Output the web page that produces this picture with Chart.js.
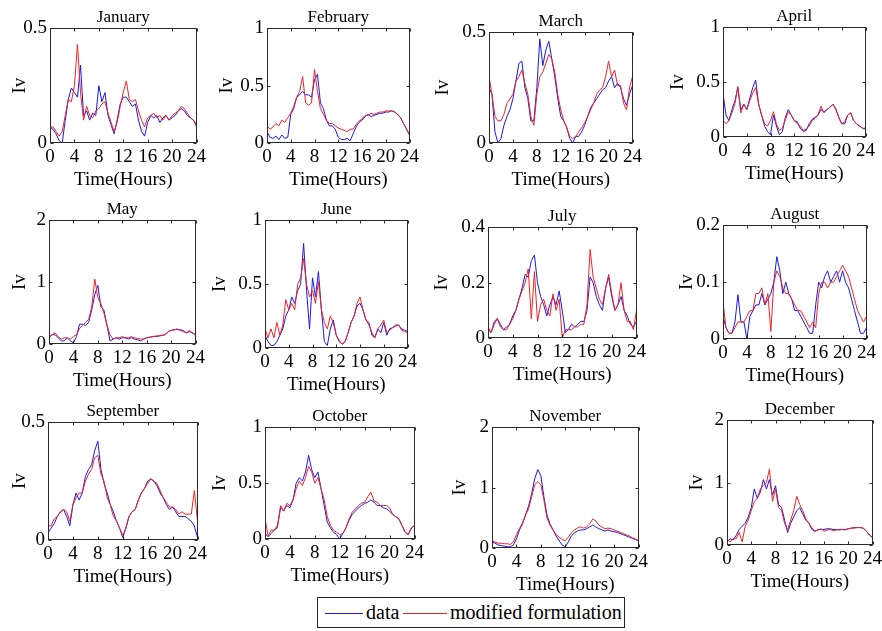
<!DOCTYPE html>
<html>
<head>
<meta charset="utf-8">
<script src="https://cdn.jsdelivr.net/npm/chart.js@4.4.0/dist/chart.umd.min.js"></script>
<style>
  body { margin: 0; background: #fff; width: 882px; height: 631px; position: relative; overflow: hidden;
         font-family: "Liberation Serif", "Times New Roman", serif; color: #000; }
  .panel { position: absolute; }
  #legend { position: absolute; left: 317px; top: 597px; width: 306px; height: 29px; border: 1px solid #222; background: #fff; }
  #legend .ln { position: absolute; top: 15px; height: 0; border-top: 1px solid; }
  #legend .tx { position: absolute; top: 2px; font-size: 20px; line-height: 24px; white-space: nowrap; }
</style>
</head>
<body>
<div id="legend">
  <span class="ln" style="left:7px;width:38px;border-color:rgb(25,25,235)"></span>
  <span class="tx" style="left:48px">data</span>
  <span class="ln" style="left:85px;width:44px;border-color:rgb(240,35,35)"></span>
  <span class="tx" style="left:132px">modified formulation</span>
</div>
<script>
// half-hour sampling over the day
const HOURS = [0,0.5,1,1.5,2,2.5,3,3.5,4,4.5,5,5.5,6,6.5,7,7.5,8,8.5,9,9.5,10,10.5,11,11.5,
  12,12.5,13,13.5,14,14.5,15,15.5,16,16.5,17,17.5,18,18.5,19,19.5,20,20.5,21,21.5,22,22.5,23,23.5,24];
const MONTHS = ['January','February','March','April','May','June','July','August','September','October','November','December'];
const Y_MAX  = [0.5, 1, 0.5, 1, 2, 1, 0.4, 0.2, 0.5, 1, 2, 2];
const Y_STEP = [0.5, 0.5, 0.5, 0.5, 1, 0.5, 0.2, 0.1, 0.5, 0.5, 1, 1];
const X_TICKS = [0, 4, 8, 12, 16, 20, 24];

const janData = [0.07,0.06,0.04,0.01,0.00,0.10,0.19,0.24, 0.22,0.20,0.34,0.12,0.14,0.10,0.13,0.12,
  0.25,0.18,0.22,0.12,0.08,0.04,0.10,0.17, 0.20,0.20,0.18,0.16,0.17,0.10,0.05,0.03,
  0.09,0.12,0.11,0.12,0.09,0.11,0.12,0.10, 0.11,0.12,0.14,0.15,0.14,0.12,0.11,0.10, 0.08];
const janModel = [0.07,0.07,0.05,0.03,0.05,0.12,0.19,0.18, 0.25,0.43,0.22,0.10,0.16,0.12,0.11,0.14,
  0.15,0.17,0.18,0.13,0.09,0.05,0.09,0.16, 0.22,0.27,0.19,0.18,0.19,0.14,0.10,0.07,
  0.11,0.12,0.13,0.11,0.12,0.10,0.12,0.10, 0.12,0.13,0.14,0.16,0.15,0.13,0.11,0.10, 0.07];

const febData = [0.10,0.05,0.04,0.06,0.03,0.07,0.04,0.05, 0.25,0.30,0.40,0.42,0.45,0.42,0.42,0.40,
  0.55,0.60,0.35,0.30,0.20,0.15,0.15,0.12, 0.05,0.03,0.03,0.04,0.02,0.08,0.14,0.18,
  0.20,0.23,0.25,0.23,0.24,0.25,0.26,0.26, 0.27,0.27,0.28,0.27,0.25,0.22,0.17,0.12, 0.07];
const febModel = [0.15,0.12,0.14,0.17,0.15,0.20,0.18,0.22, 0.26,0.32,0.40,0.45,0.58,0.35,0.33,0.35,
  0.64,0.45,0.30,0.25,0.20,0.17,0.17,0.15, 0.13,0.12,0.11,0.10,0.12,0.12,0.16,0.19,
  0.21,0.24,0.24,0.26,0.25,0.26,0.27,0.27, 0.28,0.28,0.28,0.27,0.25,0.22,0.17,0.12, 0.07];

const marData = [0.25,0.22,0.05,0.00,0.02,0.08,0.12,0.15, 0.20,0.28,0.36,0.37,0.25,0.20,0.10,0.10,
  0.25,0.47,0.35,0.42,0.46,0.38,0.30,0.20, 0.12,0.10,0.07,0.02,0.00,0.03,0.03,0.05,
  0.08,0.12,0.16,0.18,0.20,0.22,0.24,0.25, 0.28,0.30,0.25,0.27,0.25,0.20,0.17,0.22, 0.26];
const marModel = [0.30,0.22,0.12,0.10,0.10,0.13,0.18,0.20, 0.22,0.28,0.30,0.33,0.27,0.22,0.12,0.08,
  0.22,0.30,0.32,0.36,0.40,0.38,0.32,0.22, 0.15,0.10,0.07,0.03,0.02,0.03,0.05,0.07,
  0.09,0.12,0.15,0.18,0.22,0.24,0.25,0.30, 0.37,0.30,0.33,0.26,0.26,0.18,0.15,0.25, 0.30];

const aprData = [0.40,0.20,0.15,0.25,0.33,0.45,0.25,0.30, 0.25,0.35,0.45,0.52,0.30,0.20,0.10,0.05,
  0.02,0.20,0.10,0.02,0.05,0.18,0.25,0.20, 0.15,0.14,0.08,0.05,0.06,0.12,0.16,0.18,
  0.20,0.25,0.23,0.25,0.27,0.30,0.25,0.18, 0.12,0.12,0.20,0.22,0.15,0.12,0.10,0.08, 0.08];
const aprModel = [0.15,0.12,0.15,0.22,0.30,0.46,0.22,0.30, 0.25,0.33,0.40,0.45,0.30,0.20,0.12,0.10,
  0.15,0.23,0.12,0.06,0.08,0.16,0.23,0.20, 0.15,0.12,0.10,0.06,0.07,0.10,0.15,0.17,
  0.20,0.28,0.22,0.25,0.27,0.30,0.26,0.18, 0.12,0.14,0.20,0.22,0.15,0.12,0.10,0.08, 0.07];

const mayData = [0.10,0.15,0.15,0.10,0.05,0.05,0.10,0.05, 0.02,0.12,0.32,0.32,0.30,0.35,0.55,0.80,
  0.95,0.60,0.55,0.30,0.05,0.08,0.10,0.08, 0.10,0.10,0.08,0.10,0.08,0.07,0.05,0.08,
  0.10,0.11,0.12,0.12,0.13,0.14,0.15,0.20, 0.22,0.23,0.24,0.23,0.22,0.18,0.20,0.18, 0.15];
const mayModel = [0.12,0.15,0.18,0.12,0.08,0.10,0.10,0.08, 0.12,0.15,0.25,0.30,0.35,0.40,0.60,1.05,
  0.75,0.65,0.50,0.30,0.15,0.08,0.10,0.10, 0.12,0.10,0.10,0.12,0.10,0.09,0.08,0.08,
  0.10,0.11,0.12,0.13,0.13,0.14,0.15,0.20, 0.22,0.23,0.24,0.22,0.20,0.18,0.22,0.18, 0.15];

const junData = [0.10,0.05,0.02,0.02,0.05,0.10,0.15,0.25, 0.30,0.40,0.35,0.45,0.50,0.82,0.45,0.15,
  0.55,0.40,0.60,0.30,0.05,0.02,0.15,0.22, 0.10,0.05,0.03,0.05,0.12,0.20,0.25,0.33,
  0.35,0.30,0.22,0.20,0.10,0.08,0.15,0.12, 0.20,0.10,0.15,0.16,0.18,0.18,0.15,0.14, 0.13];
const junModel = [0.15,0.08,0.15,0.08,0.20,0.10,0.18,0.38, 0.30,0.35,0.30,0.50,0.55,0.70,0.50,0.40,
  0.45,0.35,0.52,0.30,0.20,0.15,0.25,0.20, 0.10,0.06,0.03,0.05,0.12,0.20,0.25,0.35,
  0.40,0.30,0.22,0.18,0.12,0.08,0.15,0.18, 0.22,0.12,0.14,0.16,0.17,0.18,0.14,0.13, 0.12];

const julData = [0.03,0.02,0.05,0.07,0.05,0.03,0.04,0.05, 0.08,0.10,0.14,0.18,0.23,0.22,0.28,0.30,
  0.20,0.15,0.12,0.08,0.12,0.15,0.12,0.17, 0.10,0.02,0.03,0.05,0.04,0.05,0.06,0.06,
  0.10,0.22,0.20,0.15,0.12,0.10,0.18,0.22, 0.15,0.10,0.12,0.15,0.10,0.08,0.05,0.04, 0.06];
const julModel = [0.04,0.02,0.06,0.07,0.04,0.03,0.03,0.05, 0.07,0.10,0.14,0.17,0.20,0.25,0.07,0.24,
  0.06,0.12,0.14,0.10,0.08,0.16,0.10,0.14, 0.00,0.03,0.03,0.03,0.04,0.04,0.05,0.05,
  0.12,0.32,0.22,0.18,0.14,0.12,0.18,0.23, 0.16,0.10,0.12,0.20,0.10,0.06,0.06,0.03, 0.10];

const augData = [0.040,0.020,0.010,0.010,0.030,0.078,0.030,0.030, 0.000,0.040,0.050,0.060,0.060,0.080,0.060,0.070,
  0.080,0.100,0.145,0.120,0.080,0.100,0.080,0.070, 0.050,0.050,0.040,0.030,0.020,0.010,0.010,0.060,
  0.100,0.090,0.110,0.120,0.100,0.110,0.120,0.100, 0.120,0.100,0.090,0.070,0.050,0.030,0.010,0.010, 0.020];
const augModel = [0.065,0.020,0.010,0.010,0.020,0.030,0.030,0.030, 0.040,0.050,0.050,0.080,0.080,0.090,0.060,0.080,
  0.013,0.100,0.120,0.110,0.090,0.080,0.080,0.070, 0.060,0.050,0.050,0.040,0.030,0.020,0.030,0.020,
  0.080,0.100,0.100,0.090,0.100,0.100,0.110,0.120, 0.130,0.120,0.110,0.090,0.070,0.050,0.040,0.030, 0.040];

const sepData = [0.03,0.05,0.07,0.10,0.12,0.13,0.10,0.06, 0.15,0.20,0.17,0.20,0.27,0.30,0.32,0.38,
  0.42,0.30,0.24,0.20,0.15,0.12,0.08,0.05, 0.01,0.05,0.10,0.12,0.13,0.17,0.20,0.22,
  0.25,0.26,0.25,0.23,0.20,0.18,0.15,0.13, 0.14,0.12,0.10,0.10,0.10,0.09,0.08,0.06, 0.01];
const sepModel = [0.06,0.06,0.09,0.10,0.12,0.13,0.12,0.08, 0.15,0.18,0.20,0.20,0.25,0.28,0.30,0.35,
  0.36,0.28,0.25,0.18,0.15,0.10,0.08,0.05, 0.02,0.05,0.10,0.12,0.13,0.17,0.20,0.22,
  0.24,0.26,0.25,0.24,0.21,0.18,0.16,0.14, 0.14,0.13,0.11,0.12,0.11,0.11,0.11,0.21, 0.08];

const octData = [0.05,0.02,0.05,0.08,0.12,0.28,0.25,0.30, 0.28,0.35,0.50,0.55,0.52,0.60,0.75,0.62,
  0.55,0.60,0.45,0.30,0.15,0.10,0.06,0.04, 0.00,0.05,0.10,0.17,0.22,0.25,0.28,0.30,
  0.32,0.33,0.35,0.33,0.30,0.30,0.28,0.27, 0.25,0.22,0.20,0.18,0.12,0.06,0.04,0.10, 0.12];
const octModel = [0.18,0.03,0.08,0.08,0.10,0.30,0.25,0.32, 0.30,0.35,0.45,0.52,0.48,0.55,0.65,0.60,
  0.50,0.55,0.45,0.35,0.20,0.12,0.08,0.06, 0.04,0.05,0.10,0.18,0.24,0.27,0.30,0.32,
  0.33,0.38,0.42,0.34,0.33,0.30,0.30,0.30, 0.28,0.22,0.20,0.18,0.12,0.06,0.04,0.10, 0.12];

const novData = [0.10,0.08,0.05,0.04,0.03,0.02,0.02,0.05, 0.15,0.30,0.40,0.55,0.70,0.90,1.15,1.30,
  1.20,0.85,0.55,0.40,0.30,0.20,0.12,0.05, 0.02,0.10,0.20,0.25,0.28,0.30,0.30,0.32,
  0.35,0.38,0.35,0.32,0.30,0.28,0.30,0.28, 0.27,0.26,0.24,0.22,0.20,0.18,0.16,0.14, 0.12];
const novModel = [0.12,0.10,0.08,0.08,0.07,0.07,0.06,0.10, 0.22,0.32,0.42,0.55,0.65,0.85,1.05,1.10,
  1.05,0.80,0.50,0.38,0.30,0.22,0.18,0.14, 0.12,0.18,0.25,0.30,0.33,0.35,0.33,0.35,
  0.40,0.48,0.45,0.38,0.35,0.32,0.33,0.32, 0.30,0.28,0.26,0.24,0.22,0.20,0.17,0.15, 0.12];

const decData = [0.05,0.10,0.08,0.15,0.25,0.30,0.35,0.45, 0.60,0.90,0.75,0.85,1.05,0.90,1.05,0.80,
  0.95,0.65,0.60,0.40,0.20,0.35,0.45,0.55, 0.60,0.50,0.40,0.35,0.25,0.22,0.25,0.25,
  0.25,0.26,0.26,0.25,0.25,0.24,0.25,0.25, 0.26,0.27,0.28,0.28,0.28,0.27,0.22,0.16, 0.12];
const decModel = [0.10,0.05,0.10,0.10,0.20,0.05,0.30,0.40, 0.55,0.70,0.75,0.90,0.95,1.00,1.22,0.70,
  0.90,0.60,0.55,0.35,0.25,0.40,0.55,0.78, 0.65,0.55,0.42,0.35,0.28,0.22,0.24,0.26,
  0.22,0.24,0.25,0.23,0.24,0.25,0.25,0.24, 0.26,0.27,0.27,0.28,0.28,0.27,0.22,0.16, 0.12];

const DATA  = [janData, febData, marData, aprData, mayData, junData, julData, augData, sepData, octData, novData, decData];
const MODEL = [janModel, febModel, marModel, aprModel, mayModel, junModel, julModel, augModel, sepModel, octModel, novModel, decModel];

// plot box of every panel: left, top, right, bottom, and gap from box to the "Iv" label
const PANELS = [
  [50, 28, 197, 143, 30], [267, 28, 410, 143, 40], [489, 32, 633, 143, 46], [723, 27, 866, 137, 45],
  [49, 220, 196, 344, 29], [265, 220, 408, 348, 45], [488, 227, 637, 338, 46], [723, 225, 867, 339, 36],
  [48, 422, 198, 540, 28], [265, 427, 415, 539, 45], [492, 427, 639, 548, 32], [727, 420, 873, 545, 30]
];
const PAD_L = 60, PAD_T = 28, PAD_R = 12, PAD_B = 48;

Chart.defaults.font.family = '"Liberation Serif", "Times New Roman", serif';
Chart.defaults.color = '#000';

// axes box with small inward tick marks on all four sides
const boxPlugin = {
  id: 'boxAxes',
  afterDraw(chart) {
    const {ctx, chartArea: a, scales: {x, y}} = chart;
    const l = Math.round(a.left) + 0.5, r = Math.round(a.right) - 0.5;
    const t = Math.round(a.top) + 0.5, b = Math.round(a.bottom) - 0.5;
    ctx.save();
    ctx.strokeStyle = '#2a2a2a';
    ctx.lineWidth = 1;
    ctx.strokeRect(l, t, r - l, b - t);
    ctx.beginPath();
    x.ticks.forEach(tk => {
      const px = Math.round(x.getPixelForValue(tk.value)) + 0.5;
      ctx.moveTo(px, t); ctx.lineTo(px, t + 3);
      ctx.moveTo(px, b); ctx.lineTo(px, b - 3);
    });
    y.ticks.forEach(tk => {
      const py = Math.round(y.getPixelForValue(tk.value)) + 0.5;
      ctx.moveTo(l, py); ctx.lineTo(l + 3, py);
      ctx.moveTo(r, py); ctx.lineTo(r - 3, py);
    });
    ctx.stroke();
    ctx.restore();
  }
};

PANELS.forEach((p, i) => {
  const [bl, bt, br, bb, ivGap] = p;
  const div = document.createElement('div');
  div.className = 'panel';
  div.style.left = (bl - PAD_L) + 'px';
  div.style.top = (bt - PAD_T) + 'px';
  const canvas = document.createElement('canvas');
  canvas.width = br - bl + PAD_L + PAD_R;
  canvas.height = bb - bt + PAD_T + PAD_B;
  canvas.style.width = canvas.width + 'px';
  canvas.style.height = canvas.height + 'px';
  div.appendChild(canvas);
  document.body.appendChild(div);

  new Chart(canvas, {
    type: 'line',
    data: {
      datasets: [
        {
          label: 'data',
          data: HOURS.map((h, k) => ({x: h, y: DATA[i][k]})),
          borderColor: 'rgb(25,25,235)',
          borderWidth: 1,
          order: 1
        },
        {
          label: 'modified formulation',
          data: HOURS.map((h, k) => ({x: h, y: MODEL[i][k]})),
          borderColor: 'rgb(240,35,35)',
          borderWidth: 1,
          order: 0
        }
      ]
    },
    options: {
      responsive: false,
      animation: false,
      devicePixelRatio: 1,
      events: [],
      elements: { point: { radius: 0 }, line: { tension: 0 } },
      layout: { padding: 0, autoPadding: false },
      plugins: {
        legend: { display: false },
        tooltip: { enabled: false },
        title: {
          display: true,
          text: MONTHS[i],
          fullSize: false,
          font: { size: 17, weight: 'normal' },
          padding: { top: 7, bottom: 1 }
        }
      },
      scales: {
        x: {
          type: 'linear',
          min: 0,
          max: 24,
          afterBuildTicks: s => { s.ticks = X_TICKS.map(v => ({value: v})); },
          afterFit: s => { s.height = PAD_B; },
          grid: { display: false, drawTicks: false },
          border: { display: false },
          ticks: { font: { size: 19 }, padding: 3, maxRotation: 0, autoSkip: false },
          title: { display: true, text: 'Time(Hours)', font: { size: 19 }, padding: { top: 0, bottom: 0 } }
        },
        y: {
          min: 0,
          max: Y_MAX[i],
          ticks: {
            stepSize: Y_STEP[i],
            font: { size: 19 },
            padding: 3,
            callback: v => String(+v.toFixed(2))
          },
          afterFit: s => { s.width = PAD_L; },
          grid: { display: false, drawTicks: false },
          border: { display: false },
          title: { display: true, text: 'Iv', font: { size: 19 }, padding: { top: PAD_L - ivGap - 11, bottom: 0 } }
        }
      }
    },
    plugins: [boxPlugin]
  });
});
</script>
</body>
</html>
